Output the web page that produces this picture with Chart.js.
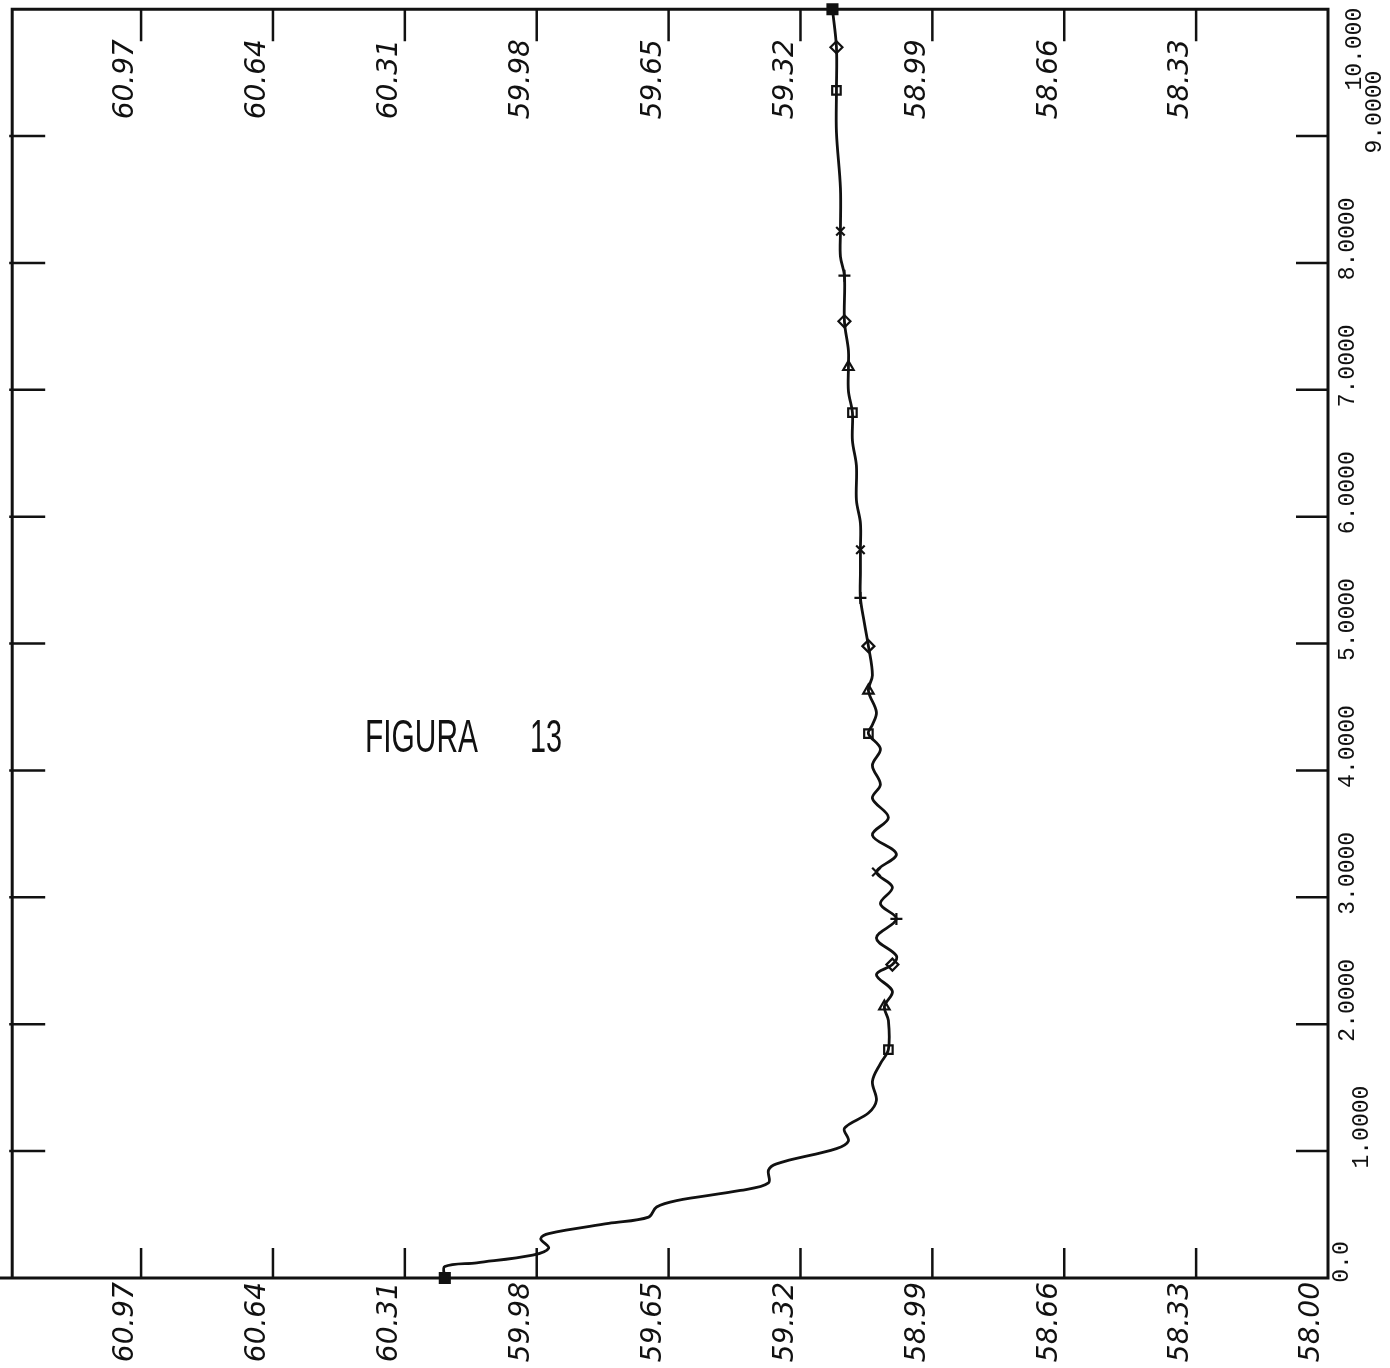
<!DOCTYPE html>
<html>
<head>
<meta charset="utf-8">
<script src="https://cdn.jsdelivr.net/npm/chart.js@4.4.1/dist/chart.umd.min.js"></script>
<style>
  html, body { margin: 0; padding: 0; background: #fff; }
  #wrap { width: 1390px; height: 1368px; }
</style>
</head>
<body>
<div id="wrap"><canvas id="fig13" width="1390" height="1368"></canvas></div>
<script>
// ==============================
// DATA
// ==============================
// time axis (vertical), value axis (horizontal, reversed)
const curveT = [0, 0.09, 0.12, 0.18, 0.235, 0.31, 0.35, 0.43, 0.48, 0.56, 0.61, 0.69, 0.75, 0.85, 0.90,
  1.02, 1.08, 1.18, 1.30, 1.40, 1.55, 1.69, 1.80, 2.03, 2.14, 2.26, 2.39, 2.47, 2.54, 2.68, 2.83, 2.95,
  3.08, 3.20, 3.34, 3.49, 3.63, 3.78, 3.89, 4.04, 4.17, 4.29, 4.36, 4.46, 4.63, 4.75, 4.98, 5.16, 5.36,
  5.56, 5.74, 5.95, 6.13, 6.40, 6.60, 6.82, 6.99, 7.18, 7.31, 7.54, 7.90, 8.05, 8.25, 8.59, 9.03, 9.36,
  9.70, 10.0];
const curveV = [60.21, 60.21, 60.13, 59.99, 59.95, 59.97, 59.95, 59.80, 59.70, 59.68, 59.63, 59.47, 59.40, 59.40, 59.38,
  59.23, 59.20, 59.21, 59.15, 59.13, 59.14, 59.12, 59.10, 59.10, 59.11, 59.09, 59.13, 59.09, 59.08, 59.13, 59.08, 59.12,
  59.09, 59.13, 59.08, 59.14, 59.10, 59.14, 59.12, 59.14, 59.12, 59.15, 59.14, 59.13, 59.15, 59.14, 59.15, 59.16, 59.17,
  59.17, 59.17, 59.17, 59.18, 59.18, 59.19, 59.19, 59.20, 59.20, 59.20, 59.21, 59.21, 59.22, 59.22, 59.22, 59.23, 59.23,
  59.23, 59.24];

// plotter symbols along the curve
const markT = [0, 1.80, 2.14, 2.47, 2.83, 3.20, 4.29, 4.63, 4.98, 5.36, 5.74, 6.82, 7.18, 7.54, 7.90, 8.25, 9.36, 9.70, 10.0];
const markV = [60.21, 59.10, 59.11, 59.09, 59.08, 59.13, 59.15, 59.15, 59.15, 59.17, 59.17, 59.19, 59.20, 59.21, 59.21, 59.22, 59.23, 59.23, 59.24];
const markSymbol = ["filled", "square", "triangle", "diamond", "plus", "cross", "square", "triangle", "diamond", "plus", "cross",
  "square", "triangle", "diamond", "plus", "cross", "square", "diamond", "filled"];

// tick labels
const xTickValues = [60.97, 60.64, 60.31, 59.98, 59.65, 59.32, 58.99, 58.66, 58.33];
const xTickLabels = ["60.97", "60.64", "60.31", "59.98", "59.65", "59.32", "58.99", "58.66", "58.33"];
const xEndValue = 58.00;
const xEndLabel = "58.00";
const yTickValues = [0, 1, 2, 3, 4, 5, 6, 7, 8, 9, 10];
const yTickLabels = ["0.0", "1.0000", "2.0000", "3.0000", "4.0000", "5.0000", "6.0000", "7.0000", "8.0000", "9.0000", "10.000"];
const figureTitle = ["FIGURA", "13"];

// ==============================
// HELPERS
// ==============================
const INK = "#111";
const symbolStyle = { filled: "rect", square: "rect", triangle: "triangle", diamond: "rectRot", plus: "cross", cross: "crossRot" };

function upText(ctx, txt, cx, cy, align){
    ctx.save();
    ctx.translate(cx, cy);
    ctx.rotate(-Math.PI / 2);
    ctx.textAlign = align;
    ctx.textBaseline = "middle";
    ctx.fillText(txt, 0, 0);
    ctx.restore();
}

// -- frame, inward ticks, rotated labels --
const plotterAxes = {
    id: "plotterAxes",
    beforeDatasetsDraw(chart){
        const { ctx, chartArea: a, scales: { x, y } } = chart;
        ctx.save();
        ctx.strokeStyle = INK;
        ctx.fillStyle = INK;
        ctx.lineWidth = 3;

        // frame
        ctx.beginPath();
        ctx.moveTo(0, a.bottom);
        ctx.lineTo(a.right, a.bottom);
        ctx.lineTo(a.right, a.top);
        ctx.lineTo(a.left + 3, a.top);
        ctx.lineTo(a.left + 3, a.bottom);
        ctx.stroke();

        // ticks
        ctx.lineWidth = 2.5;
        ctx.beginPath();
        xTickValues.forEach(v => {
            const px = x.getPixelForValue(v);
            ctx.moveTo(px, a.bottom); ctx.lineTo(px, a.bottom - 30);
            ctx.moveTo(px, a.top); ctx.lineTo(px, a.top + 32);
        });
        yTickValues.slice(1, -1).forEach(t => {
            const py = y.getPixelForValue(t);
            ctx.moveTo(a.right, py); ctx.lineTo(a.right - 32, py);
            ctx.moveTo(a.left, py); ctx.lineTo(a.left + 36, py);
        });
        ctx.stroke();

        // x labels (bottom + top)
        ctx.font = 'italic 28px "DejaVu Sans"';
        xTickValues.forEach((v, i) => {
            const px = x.getPixelForValue(v);
            upText(ctx, xTickLabels[i], px - 15, a.bottom + 4, "right");
            upText(ctx, xTickLabels[i], px - 15, a.top + 30, "right");
        });
        upText(ctx, xEndLabel, x.getPixelForValue(xEndValue) - 16, a.bottom + 4, "right");

        // y labels on the right
        ctx.font = '23px "Liberation Mono"';
        yTickValues.forEach((t, i) => {
            const py = y.getPixelForValue(t);
            let dx = 20, dy = -24;
            if(t === 0){ dx = 14; dy = -16; }
            if(t === 1){ dx = 34; }
            if(t === 9){ dx = 47; }
            if(t === 10){ dx = 27; dy = 40; }
            upText(ctx, yTickLabels[i], a.right + dx, py + dy, "center");
        });

        // figure caption, narrow plotter lettering
        ctx.font = '47px "Liberation Sans"';
        ctx.textAlign = "left";
        ctx.textBaseline = "alphabetic";
        [[figureTitle[0], 365, 113], [figureTitle[1], 530, 32]].forEach(([txt, left, w]) => {
            const sx = w / ctx.measureText(txt).width;
            ctx.save();
            ctx.translate(left, 752);
            ctx.scale(sx, 1);
            ctx.fillText(txt, 0, 0);
            ctx.restore();
        });

        ctx.restore();
    }
};

// ==============================
// CHART
// ==============================
const ctx = document.getElementById("fig13").getContext("2d");

new Chart(ctx, {
    type: "scatter",
    data: {
        datasets: [{
            data: curveT.map((t, i) => ({ x: curveV[i], y: t })),
            showLine: true,
            borderColor: INK,
            borderWidth: 2.8,
            pointRadius: 0,
            tension: 0.35,
            fill: false,
            clip: false
        }, {
            data: markT.map((t, i) => ({ x: markV[i], y: t })),
            showLine: false,
            pointStyle: markSymbol.map(s => symbolStyle[s]),
            pointRadius: markSymbol.map(s => s === "filled" ? 7 : 6),
            pointBackgroundColor: markSymbol.map(s => s === "filled" ? INK : "#fff"),
            pointBorderColor: INK,
            pointBorderWidth: 2.2,
            clip: false
        }]
    },
    options: {
        responsive: false,
        animation: false,
        layout: { padding: { left: 0, top: 4, right: 62, bottom: 90 } },
        plugins: { legend: { display: false }, tooltip: { enabled: false } },
        scales: {
            x: { type: "linear", min: 58.0, max: 61.3, reverse: true, display: false },
            y: { type: "linear", min: 0, max: 10, display: false }
        }
    },
    plugins: [plotterAxes]
});
</script>
</body>
</html>
